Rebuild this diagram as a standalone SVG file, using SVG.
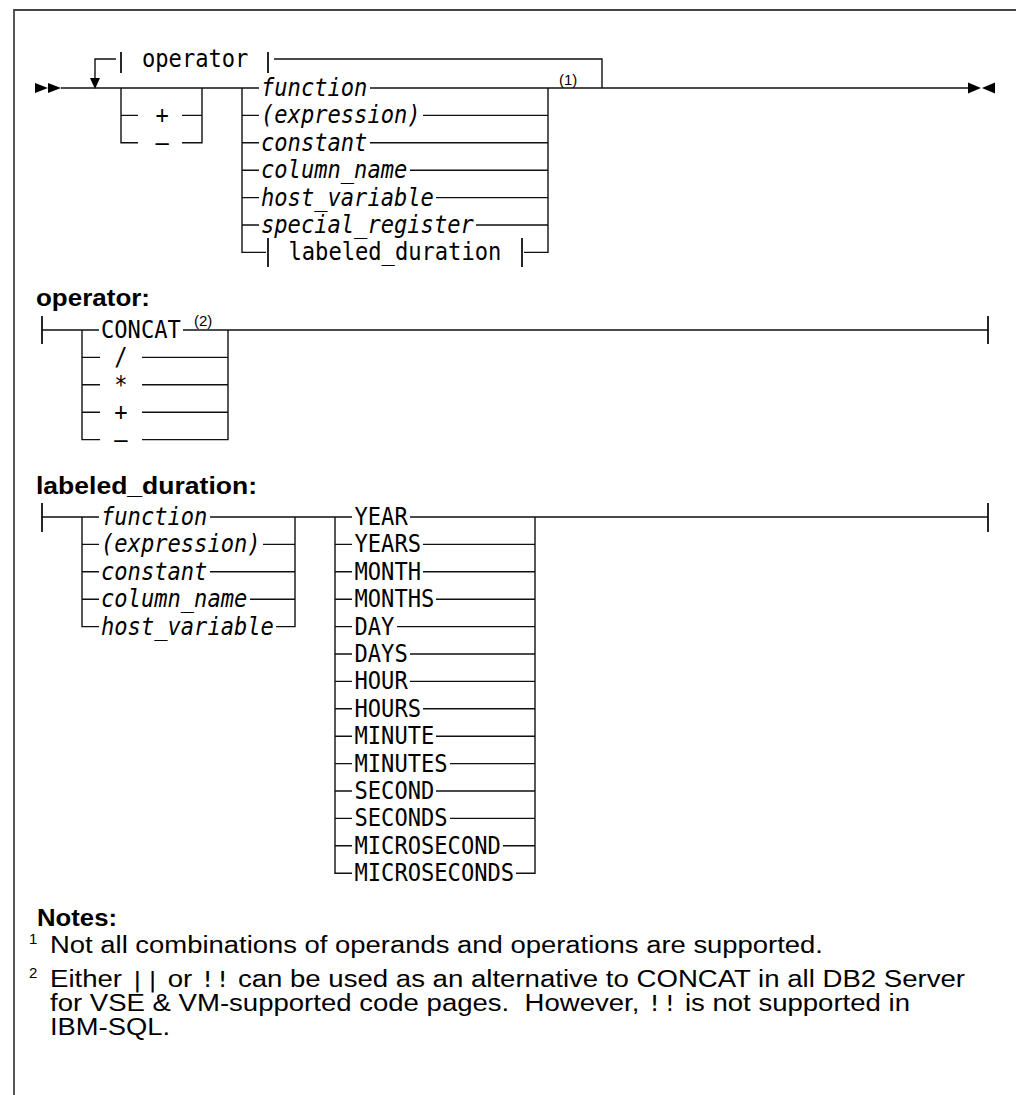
<svg xmlns="http://www.w3.org/2000/svg" width="1016" height="1095" viewBox="0 0 1016 1095">
<style>
.m{font-family:"DejaVu Sans Mono","Liberation Mono",monospace;font-size:24px;fill:#000}
.i{font-style:italic}
.h{font-family:"Liberation Sans",Arial,sans-serif;font-weight:bold;font-size:23px;fill:#000}
.b{font-family:"Liberation Sans",Arial,sans-serif;font-size:23px;fill:#000}
.s{font-family:"Liberation Sans",Arial,sans-serif;font-size:15px;fill:#000}
.mi{font-family:"DejaVu Sans Mono",monospace;font-size:21px}
.ln{fill:none;stroke:#111;stroke-width:1.4}
.bar{fill:none;stroke:#111;stroke-width:1.8}
.ah{fill:#000;stroke:none}
.frame{fill:none;stroke:#444;stroke-width:1.8}
</style>
<rect width="1016" height="1095" fill="#fff"/>
<path class="frame" d="M14 1095 V10 H1016"/>

<g id="connectors">
  <!-- main syntax -->
  <path class="ln" d="M61 88 H259 M370 88 H968"/>
  <path class="ln" d="M116 59 H95 V80 M274 59 H602 V88"/>
  <path class="ln" d="M121 88 V142.8 H138 M182 142.8 H202 V88 M121 115.4 H138 M182 115.4 H202"/>
  <path class="ln" d="M242 88 V252.4 H266 M524 252.4 H548 V88"/>
  <path class="ln" d="M242 115.4 H259 M423 115.4 H548 M242 142.8 H259 M370 142.8 H548 M242 170.2 H259 M410 170.2 H548 M242 197.6 H259 M436 197.6 H548 M242 225 H259 M476 225 H548"/>
  <path class="bar" d="M121 52 V73 M268 52 V73 M268 238 V267 M522 238 V267"/>
  <polygon class="ah" points="90,78 100,78 95,89"/>
  <polygon class="ah" points="35,83 48,88 35,93"/>
  <polygon class="ah" points="48,83 61,88 48,93"/>
  <polygon class="ah" points="968,82.5 981,88 968,93.5"/>
  <polygon class="ah" points="995,82.5 982,88 995,93.5"/>
  <!-- operator fragment -->
  <path class="bar" d="M42 316 V344 M988 316 V344"/>
  <path class="ln" d="M42 330 H99 M183 330 H988"/>
  <path class="ln" d="M82 330 V439.6 H100 M228 330 V439.6 H142"/>
  <path class="ln" d="M82 357.4 H100 M142 357.4 H228 M82 384.8 H100 M142 384.8 H228 M82 412.2 H100 M142 412.2 H228"/>
  <!-- labeled_duration fragment -->
  <path class="bar" d="M42 503 V532 M988 503 V532"/>
  <path class="ln" d="M42 517 H99 M210 517 H352 M410 517 H988"/>
  <path class="ln" d="M82 517 V626.6 H99 M295 517 V626.6 H276"/>
  <path class="ln" d="M82 544.4 H99 M263 544.4 H295 M82 571.8 H99 M210 571.8 H295 M82 599.2 H99 M250 599.2 H295"/>
  <path class="ln" d="M335 517 V873.2 H352 M535 517 V873.2 H516"/>
  <path class="ln" d="M335 544.4 H352 M423 544.4 H535 M335 571.8 H352 M423 571.8 H535 M335 599.2 H352 M436 599.2 H535 M335 626.6 H352 M397 626.6 H535 M335 654 H352 M410 654 H535 M335 681.4 H352 M410 681.4 H535 M335 708.8 H352 M423 708.8 H535 M335 736.2 H352 M436 736.2 H535 M335 763.6 H352 M450 763.6 H535 M335 791 H352 M436 791 H535 M335 818.4 H352 M450 818.4 H535 M335 845.8 H352 M503 845.8 H535"/>
</g>

<g id="main-syntax">
  <g id="n-operator-ref"><text class="m" x="142" y="67" textLength="106.4" lengthAdjust="spacingAndGlyphs">operator</text></g>
  <g id="n-plus"><text class="m" x="155.4" y="123.4" textLength="13.3" lengthAdjust="spacingAndGlyphs">+</text></g>
  <g id="n-minus"><text class="m" x="155.4" y="150.8" textLength="13.3" lengthAdjust="spacingAndGlyphs">–</text></g>
  <g id="n-function"><text class="m i" x="261" y="96" textLength="106.4" lengthAdjust="spacingAndGlyphs">function</text></g>
  <g id="n-expression"><text class="m i" x="261" y="123.4" textLength="159.6" lengthAdjust="spacingAndGlyphs">(expression)</text></g>
  <g id="n-constant"><text class="m i" x="261" y="150.8" textLength="106.4" lengthAdjust="spacingAndGlyphs">constant</text></g>
  <g id="n-column-name"><text class="m i" x="261" y="178.2" textLength="146.3" lengthAdjust="spacingAndGlyphs">column_name</text></g>
  <g id="n-host-variable"><text class="m i" x="261" y="205.6" textLength="172.9" lengthAdjust="spacingAndGlyphs">host_variable</text></g>
  <g id="n-special-register"><text class="m i" x="261" y="233" textLength="212.8" lengthAdjust="spacingAndGlyphs">special_register</text></g>
  <g id="n-labeled-duration-ref"><text class="m" x="288.5" y="260.4" textLength="212.8" lengthAdjust="spacingAndGlyphs">labeled_duration</text></g>
  <g id="n-note1-ref"><text class="s" x="559" y="85">(1)</text></g>
</g>

<g id="operator-fragment">
  <g id="h-operator"><text class="h" x="36" y="306" textLength="114" lengthAdjust="spacingAndGlyphs">operator:</text></g>
  <g id="n-concat"><text class="m" x="101" y="338" textLength="79.8" lengthAdjust="spacingAndGlyphs">CONCAT</text></g>
  <g id="n-note2-ref"><text class="s" x="194" y="326">(2)</text></g>
  <g id="n-div"><text class="m" x="114.3" y="365.4" textLength="13.3" lengthAdjust="spacingAndGlyphs">/</text></g>
  <g id="n-mul"><text class="m" x="114.3" y="392.8" textLength="13.3" lengthAdjust="spacingAndGlyphs">*</text></g>
  <g id="n-add"><text class="m" x="114.3" y="420.2" textLength="13.3" lengthAdjust="spacingAndGlyphs">+</text></g>
  <g id="n-sub"><text class="m" x="114.3" y="447.6" textLength="13.3" lengthAdjust="spacingAndGlyphs">–</text></g>
</g>

<g id="labeled-duration-fragment">
  <g id="h-labeled"><text class="h" x="36" y="494" textLength="221" lengthAdjust="spacingAndGlyphs">labeled_duration:</text></g>
  <g id="n-ld-function"><text class="m i" x="101" y="525" textLength="106.4" lengthAdjust="spacingAndGlyphs">function</text></g>
  <g id="n-ld-expression"><text class="m i" x="101" y="552.4" textLength="159.6" lengthAdjust="spacingAndGlyphs">(expression)</text></g>
  <g id="n-ld-constant"><text class="m i" x="101" y="579.8" textLength="106.4" lengthAdjust="spacingAndGlyphs">constant</text></g>
  <g id="n-ld-column-name"><text class="m i" x="101" y="607.2" textLength="146.3" lengthAdjust="spacingAndGlyphs">column_name</text></g>
  <g id="n-ld-host-variable"><text class="m i" x="101" y="634.6" textLength="172.9" lengthAdjust="spacingAndGlyphs">host_variable</text></g>
  <g id="n-year"><text class="m" x="354.5" y="525" textLength="53.2" lengthAdjust="spacingAndGlyphs">YEAR</text></g>
  <g id="n-years"><text class="m" x="354.5" y="552.4" textLength="66.5" lengthAdjust="spacingAndGlyphs">YEARS</text></g>
  <g id="n-month"><text class="m" x="354.5" y="579.8" textLength="66.5" lengthAdjust="spacingAndGlyphs">MONTH</text></g>
  <g id="n-months"><text class="m" x="354.5" y="607.2" textLength="79.8" lengthAdjust="spacingAndGlyphs">MONTHS</text></g>
  <g id="n-day"><text class="m" x="354.5" y="634.6" textLength="39.9" lengthAdjust="spacingAndGlyphs">DAY</text></g>
  <g id="n-days"><text class="m" x="354.5" y="662" textLength="53.2" lengthAdjust="spacingAndGlyphs">DAYS</text></g>
  <g id="n-hour"><text class="m" x="354.5" y="689.4" textLength="53.2" lengthAdjust="spacingAndGlyphs">HOUR</text></g>
  <g id="n-hours"><text class="m" x="354.5" y="716.8" textLength="66.5" lengthAdjust="spacingAndGlyphs">HOURS</text></g>
  <g id="n-minute"><text class="m" x="354.5" y="744.2" textLength="79.8" lengthAdjust="spacingAndGlyphs">MINUTE</text></g>
  <g id="n-minutes"><text class="m" x="354.5" y="771.6" textLength="93.1" lengthAdjust="spacingAndGlyphs">MINUTES</text></g>
  <g id="n-second"><text class="m" x="354.5" y="799" textLength="79.8" lengthAdjust="spacingAndGlyphs">SECOND</text></g>
  <g id="n-seconds"><text class="m" x="354.5" y="826.4" textLength="93.1" lengthAdjust="spacingAndGlyphs">SECONDS</text></g>
  <g id="n-microsecond"><text class="m" x="354.5" y="853.8" textLength="146.3" lengthAdjust="spacingAndGlyphs">MICROSECOND</text></g>
  <g id="n-microseconds"><text class="m" x="354.5" y="881.2" textLength="159.6" lengthAdjust="spacingAndGlyphs">MICROSECONDS</text></g>
</g>

<g id="notes">
  <text class="h" x="37" y="926" textLength="80" lengthAdjust="spacingAndGlyphs">Notes:</text>
  <text class="s" x="29" y="944">1</text>
  <text class="b" x="50" y="953" textLength="773" lengthAdjust="spacingAndGlyphs">Not all combinations of operands and operations are supported.</text>
  <text class="s" x="29" y="978">2</text>
  <text class="b" x="50" y="987" textLength="915" lengthAdjust="spacingAndGlyphs">Either <tspan class="mi">||</tspan> or <tspan class="mi">!!</tspan> can be used as an alternative to CONCAT in all DB2 Server</text>
  <text class="b" x="50" y="1011" textLength="860" lengthAdjust="spacingAndGlyphs" xml:space="preserve">for VSE &amp; VM-supported code pages.  However, <tspan class="mi">!!</tspan> is not supported in</text>
  <text class="b" x="50" y="1035" textLength="120" lengthAdjust="spacingAndGlyphs">IBM-SQL.</text>
</g>
</svg>
